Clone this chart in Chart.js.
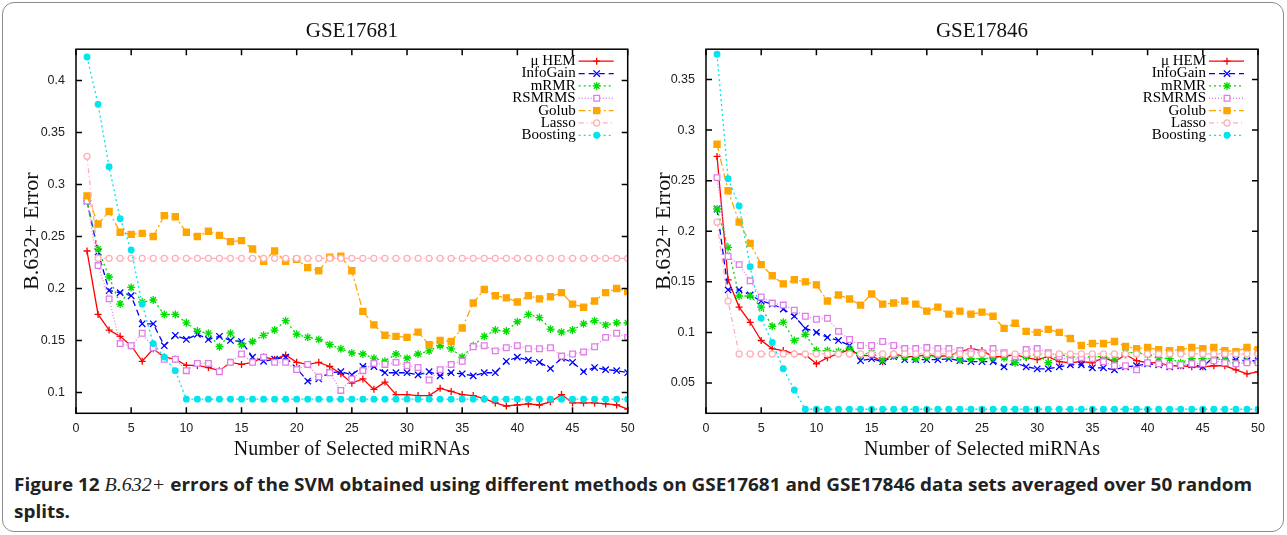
<!DOCTYPE html>
<html>
<head>
<meta charset="utf-8">
<title>B.632+ errors of the SVM</title>
<script src="https://cdn.jsdelivr.net/npm/chart.js@4.4.0/dist/chart.umd.min.js"></script>
<style>
  html, body { margin: 0; padding: 0; background: #fff; }
  body { width: 1287px; height: 535px; position: relative; overflow: hidden; }
  .frame { position: absolute; left: 2px; top: 2px; width: 1282px; height: 530px; box-sizing: border-box;
           border: 1.5px solid #8c8c8c; border-radius: 12px; }
  #leftChart { position: absolute; left: 0; top: 0; }
  #rightChart { position: absolute; left: 640px; top: 0; }
  .caption { position: absolute; left: 14px; top: 471px; font-family: 'Open Sans', 'Liberation Sans', sans-serif;
             font-weight: bold; font-size: 18px; line-height: 27px; color: #222; white-space: nowrap;
             transform-origin: 0 0; }
  .caption i { font-family: 'Liberation Serif', serif; font-weight: normal; font-size: 19px; }
</style>
</head>
<body>
<div class="frame"></div>
<canvas id="leftChart" width="640" height="470"></canvas>
<canvas id="rightChart" width="640" height="470"></canvas>
<div class="caption" id="caption"><span id="captionLine">Figure 12 <i>B.632+</i> errors of the SVM obtained using different methods on GSE17681 and GSE17846 data sets averaged over 50 random</span><br>splits.</div>

<script>
// Categories and tick labels
const nSelected = [1, 2, 3, 4, 5, 6, 7, 8, 9, 10, 11, 12, 13, 14, 15, 16, 17, 18, 19, 20,
  21, 22, 23, 24, 25, 26, 27, 28, 29, 30, 31, 32, 33, 34, 35, 36, 37, 38, 39, 40,
  41, 42, 43, 44, 45, 46, 47, 48, 49, 50];
const xTicks = [0, 5, 10, 15, 20, 25, 30, 35, 40, 45, 50];
const yTicksLeft = [0.1, 0.15, 0.2, 0.25, 0.3, 0.35, 0.4];
const yTicksRight = [0.05, 0.1, 0.15, 0.2, 0.25, 0.3, 0.35];
const methods = ['\u03bc HEM', 'InfoGain', 'mRMR', 'RSMRMS', 'Golub', 'Lasso', 'Boosting'];

// GSE17681
const hemA = [0.236, 0.175, 0.160, 0.154, 0.145, 0.130, 0.142, 0.134, 0.132, 0.126,
  0.126, 0.124, 0.121, 0.129, 0.127, 0.129, 0.134, 0.132, 0.136, 0.129,
  0.127, 0.129, 0.125, 0.118, 0.109, 0.113, 0.103, 0.110, 0.098, 0.098,
  0.097, 0.097, 0.104, 0.101, 0.098, 0.097, 0.094, 0.090, 0.087, 0.088,
  0.089, 0.088, 0.091, 0.098, 0.090, 0.090, 0.090, 0.089, 0.088, 0.084];
const infoA = [0.284, 0.235, 0.198, 0.196, 0.193, 0.166, 0.166, 0.145, 0.155, 0.151,
  0.156, 0.151, 0.154, 0.150, 0.149, 0.134, 0.130, 0.132, 0.134, 0.123,
  0.111, 0.113, 0.119, 0.120, 0.117, 0.125, 0.125, 0.119, 0.119, 0.119,
  0.117, 0.120, 0.116, 0.119, 0.118, 0.116, 0.119, 0.119, 0.130, 0.134,
  0.131, 0.129, 0.123, 0.133, 0.129, 0.120, 0.124, 0.122, 0.121, 0.119];
const mrmrA = [0.284, 0.238, 0.211, 0.185, 0.201, 0.187, 0.189, 0.175, 0.175, 0.167,
  0.159, 0.157, 0.144, 0.157, 0.146, 0.149, 0.155, 0.160, 0.169, 0.156,
  0.153, 0.151, 0.146, 0.142, 0.138, 0.137, 0.133, 0.130, 0.137, 0.133,
  0.137, 0.140, 0.145, 0.142, 0.134, 0.145, 0.154, 0.160, 0.159, 0.168,
  0.175, 0.172, 0.161, 0.158, 0.160, 0.166, 0.169, 0.165, 0.167, 0.167];
const rsmA = [0.284, 0.222, 0.190, 0.147, 0.145, 0.157, 0.143, 0.132, 0.132, 0.121,
  0.128, 0.128, 0.120, 0.129, 0.137, 0.129, 0.134, 0.129, 0.129, 0.122,
  0.127, 0.115, 0.119, 0.102, 0.113, 0.121, 0.128, 0.127, 0.129, 0.126,
  0.124, 0.112, 0.122, 0.127, 0.130, 0.144, 0.145, 0.140, 0.143, 0.145,
  0.142, 0.142, 0.143, 0.135, 0.137, 0.139, 0.144, 0.153, 0.157, 0.153];
const golubA = [0.289, 0.262, 0.274, 0.254, 0.252, 0.253, 0.250, 0.270, 0.269, 0.254,
  0.250, 0.255, 0.251, 0.245, 0.246, 0.238, 0.226, 0.236, 0.226, 0.228,
  0.220, 0.217, 0.230, 0.231, 0.217, 0.178, 0.165, 0.155, 0.154, 0.153,
  0.158, 0.146, 0.150, 0.149, 0.162, 0.186, 0.199, 0.193, 0.191, 0.187,
  0.193, 0.190, 0.192, 0.196, 0.185, 0.182, 0.188, 0.196, 0.200, 0.197];
const lassoA = [0.327, 0.229, 0.229, 0.229, 0.229, 0.229, 0.229, 0.229, 0.229, 0.229,
  0.229, 0.229, 0.229, 0.229, 0.229, 0.229, 0.229, 0.229, 0.229, 0.229,
  0.229, 0.229, 0.229, 0.229, 0.229, 0.229, 0.229, 0.229, 0.229, 0.229,
  0.229, 0.229, 0.229, 0.229, 0.229, 0.229, 0.229, 0.229, 0.229, 0.229,
  0.229, 0.229, 0.229, 0.229, 0.229, 0.229, 0.229, 0.229, 0.229, 0.229];
const boostA = [0.4225, 0.377, 0.317, 0.267, 0.237, 0.185, 0.147, 0.134, 0.121, 0.0936,
  0.0936, 0.0936, 0.0936, 0.0936, 0.0936, 0.0936, 0.0936, 0.0936, 0.0936, 0.0936,
  0.0936, 0.0936, 0.0936, 0.0936, 0.0936, 0.0936, 0.0936, 0.0936, 0.0936, 0.0936,
  0.0936, 0.0936, 0.0936, 0.0936, 0.0936, 0.0936, 0.0936, 0.0936, 0.0936, 0.0936,
  0.0936, 0.0936, 0.0936, 0.0936, 0.0936, 0.0936, 0.0936, 0.0936, 0.0936, 0.0936];

// GSE17846
const hemB = [0.274, 0.152, 0.125, 0.110, 0.092, 0.084, 0.082, 0.079, 0.078, 0.069,
  0.075, 0.079, 0.083, 0.077, 0.077, 0.071, 0.079, 0.076, 0.076, 0.078,
  0.076, 0.077, 0.081, 0.084, 0.082, 0.076, 0.076, 0.078, 0.075, 0.073,
  0.076, 0.071, 0.070, 0.071, 0.070, 0.075, 0.071, 0.078, 0.072, 0.070,
  0.070, 0.067, 0.067, 0.066, 0.066, 0.067, 0.067, 0.063, 0.059, 0.061];
const infoB = [0.222, 0.142, 0.142, 0.137, 0.131, 0.128, 0.123, 0.116, 0.104, 0.100,
  0.095, 0.092, 0.087, 0.072, 0.074, 0.071, 0.076, 0.073, 0.073, 0.073,
  0.073, 0.074, 0.072, 0.071, 0.071, 0.071, 0.066, 0.070, 0.066, 0.064,
  0.064, 0.066, 0.068, 0.068, 0.065, 0.065, 0.063, 0.066, 0.067, 0.069,
  0.068, 0.066, 0.067, 0.068, 0.066, 0.076, 0.074, 0.073, 0.072, 0.072];
const mrmrB = [0.222, 0.184, 0.136, 0.136, 0.125, 0.106, 0.110, 0.092, 0.098, 0.082,
  0.082, 0.081, 0.084, 0.078, 0.080, 0.073, 0.077, 0.076, 0.074, 0.076,
  0.077, 0.077, 0.073, 0.074, 0.074, 0.075, 0.075, 0.070, 0.076, 0.078,
  0.070, 0.078, 0.076, 0.075, 0.076, 0.076, 0.073, 0.080, 0.080, 0.078,
  0.075, 0.074, 0.070, 0.074, 0.074, 0.074, 0.073, 0.070, 0.071, 0.071];
const rsmB = [0.253, 0.175, 0.167, 0.151, 0.135, 0.129, 0.127, 0.122, 0.116, 0.113,
  0.114, 0.101, 0.093, 0.087, 0.087, 0.091, 0.087, 0.084, 0.084, 0.085,
  0.084, 0.084, 0.082, 0.081, 0.080, 0.084, 0.080, 0.076, 0.083, 0.084,
  0.080, 0.076, 0.072, 0.075, 0.074, 0.071, 0.067, 0.067, 0.063, 0.070,
  0.069, 0.067, 0.068, 0.069, 0.069, 0.072, 0.070, 0.069, 0.070, 0.070];
const golubB = [0.286, 0.240, 0.209, 0.188, 0.167, 0.156, 0.148, 0.152, 0.150, 0.147,
  0.131, 0.137, 0.133, 0.127, 0.138, 0.128, 0.129, 0.131, 0.128, 0.121,
  0.125, 0.118, 0.121, 0.118, 0.120, 0.116, 0.104, 0.109, 0.101, 0.100,
  0.103, 0.100, 0.094, 0.087, 0.089, 0.089, 0.091, 0.086, 0.084, 0.085,
  0.083, 0.082, 0.083, 0.085, 0.084, 0.085, 0.082, 0.081, 0.085, 0.083];
const lassoB = [0.209, 0.131, 0.0787, 0.0787, 0.0787, 0.0787, 0.0787, 0.0787, 0.0787, 0.0787,
  0.0787, 0.0787, 0.0787, 0.0787, 0.0787, 0.0787, 0.0787, 0.0787, 0.0787, 0.0787,
  0.0787, 0.0787, 0.0787, 0.0787, 0.0787, 0.0787, 0.0787, 0.0787, 0.0787, 0.0787,
  0.0787, 0.0787, 0.0787, 0.0787, 0.0787, 0.0787, 0.0787, 0.0787, 0.0787, 0.0787,
  0.0787, 0.0787, 0.0787, 0.0787, 0.0787, 0.0787, 0.0787, 0.0787, 0.0787, 0.0787];
const boostB = [0.375, 0.252, 0.225, 0.165, 0.114, 0.090, 0.064, 0.043, 0.024, 0.024,
  0.024, 0.024, 0.024, 0.024, 0.024, 0.024, 0.024, 0.024, 0.024, 0.024,
  0.024, 0.024, 0.024, 0.024, 0.024, 0.024, 0.024, 0.024, 0.024, 0.024,
  0.024, 0.024, 0.024, 0.024, 0.024, 0.024, 0.024, 0.024, 0.024, 0.024,
  0.024, 0.024, 0.024, 0.024, 0.024, 0.024, 0.024, 0.024, 0.024, 0.024];

// gnuplot-like line and point types, one per method
const looks = [
  { color: '#ff0000', dash: [], point: 'cross', r: 3.5, fill: '#ff0000' },
  { color: '#0000ff', dash: [6, 4], point: 'crossRot', r: 4.5, fill: '#0000ff' },
  { color: '#00dd00', dash: [2, 3], point: 'star', r: 4, fill: '#00dd00' },
  { color: '#e07ee8', dash: [1, 2], point: 'rect', r: 4, fill: '#ffffff' },
  { color: '#ffa500', dash: [7, 3, 2, 3], point: 'rect', r: 4.3, fill: '#ffa500' },
  { color: '#ffb0b8', dash: [5, 3, 1, 3], point: 'circle', r: 3, fill: '#ffffff' },
  { color: '#00e5ee', dash: [2, 3], point: 'circle', r: 2.8, fill: '#00e5ee' }
];

const serif = "'Liberation Serif', 'Times New Roman', serif";
const sans = "'Liberation Sans', Arial, sans-serif";

// Box, inward ticks on all four sides and the legend in the top right corner
const gnuplotLook = {
  id: 'gnuplotLook',
  afterDraw(chart) {
    const { ctx, chartArea: a, scales } = chart;
    ctx.save();
    ctx.strokeStyle = '#000';
    ctx.lineWidth = 1.5;
    ctx.setLineDash([]);
    ctx.strokeRect(a.left, a.top, a.right - a.left, a.bottom - a.top);
    ctx.beginPath();
    scales.x.ticks.forEach(t => {
      const px = scales.x.getPixelForValue(t.value);
      ctx.moveTo(px, a.bottom); ctx.lineTo(px, a.bottom - 6);
      ctx.moveTo(px, a.top); ctx.lineTo(px, a.top + 6);
    });
    scales.y.ticks.forEach(t => {
      const py = scales.y.getPixelForValue(t.value);
      ctx.moveTo(a.left, py); ctx.lineTo(a.left + 6, py);
      ctx.moveTo(a.right, py); ctx.lineTo(a.right - 6, py);
    });
    ctx.stroke();

    const textRight = a.right - 52;
    ctx.font = '15px ' + serif;
    ctx.textAlign = 'right';
    ctx.textBaseline = 'middle';
    chart.data.datasets.forEach((ds, i) => {
      const y = a.top + 12 + i * 12.35;
      ctx.fillStyle = '#000';
      ctx.fillText(ds.label, textRight, y);
      ctx.strokeStyle = ds.borderColor;
      ctx.lineWidth = ds.borderWidth;
      ctx.setLineDash(ds.borderDash);
      ctx.beginPath();
      ctx.moveTo(textRight + 3, y);
      ctx.lineTo(textRight + 38, y);
      ctx.stroke();
      ctx.setLineDash([]);
      ctx.fillStyle = ds.pointBackgroundColor;
      ctx.lineWidth = ds.pointBorderWidth;
      Chart.helpers.drawPoint(ctx, { pointStyle: ds.pointStyle, radius: ds.pointRadius, rotation: 0, borderWidth: ds.pointBorderWidth }, textRight + 21, y);
    });
    ctx.restore();
  }
};

function buildChart(id, title, series, yMin, yMax, yTicks, axisWidth, padRight, yTitlePad) {
  const datasets = series.map((values, i) => {
    const s = looks[i];
    return {
      label: methods[i],
      data: nSelected.map((n, k) => ({ x: n, y: values[k] })),
      borderColor: s.color,
      backgroundColor: s.color,
      borderWidth: 1.3,
      borderDash: s.dash,
      pointStyle: s.point,
      pointRadius: s.r,
      pointBorderColor: s.color,
      pointBackgroundColor: s.fill,
      pointBorderWidth: 1.3,
      tension: 0,
      order: series.length - i
    };
  });

  return new Chart(document.getElementById(id).getContext('2d'), {
    type: 'line',
    data: { datasets },
    plugins: [gnuplotLook],
    options: {
      responsive: false,
      animation: false,
      events: [],
      layout: { padding: { left: 0, right: padRight, top: 0, bottom: 0 } },
      plugins: {
        legend: { display: false },
        tooltip: { enabled: false },
        title: {
          display: true, text: title, fullSize: false, color: '#111',
          font: { family: serif, size: 21, weight: 'normal' },
          padding: { top: 19, bottom: 5 }
        }
      },
      scales: {
        x: {
          type: 'linear', min: 0, max: 50,
          afterBuildTicks: sc => { sc.ticks = xTicks.map(v => ({ value: v })); },
          afterFit: sc => { sc.height = 470 - 413.3; },
          grid: { display: false },
          border: { display: false },
          ticks: { autoSkip: false, maxRotation: 0, padding: 0, color: '#222', font: { family: sans, size: 12.5 } },
          title: {
            display: true, text: 'Number of Selected miRNAs', color: '#111',
            font: { family: serif, size: 20 }, padding: { top: 0, bottom: 8 }
          }
        },
        y: {
          min: yMin, max: yMax,
          afterBuildTicks: sc => { sc.ticks = yTicks.map(v => ({ value: v })); },
          afterFit: sc => { sc.width = axisWidth; },
          grid: { display: false },
          border: { display: false },
          ticks: {
            autoSkip: false, padding: 3, color: '#222', font: { family: sans, size: 12.5 },
            callback: v => String(+v.toFixed(2))
          },
          title: {
            display: true, text: 'B.632+ Error', color: '#111',
            font: { family: serif, size: 22 }, padding: { top: yTitlePad, bottom: 0 }
          }
        }
      }
    }
  });
}

document.addEventListener('DOMContentLoaded', () => {
  buildChart('leftChart', 'GSE17681', [hemA, infoA, mrmrA, rsmA, golubA, lassoA, boostA],
    0.08, 0.43, yTicksLeft, 76, 12.3, 18.8);
  buildChart('rightChart', 'GSE17846', [hemB, infoB, mrmrB, rsmB, golubB, lassoB, boostB],
    0.02, 0.38, yTicksRight, 66, 22, 11.3);

  // squeeze the caption so its first line ends where the reference's does
  const line = document.getElementById('captionLine');
  const w = line.getBoundingClientRect().width;
  document.getElementById('caption').style.transform = 'scaleX(' + (1238 / w) + ')';
});
</script>
</body>
</html>
